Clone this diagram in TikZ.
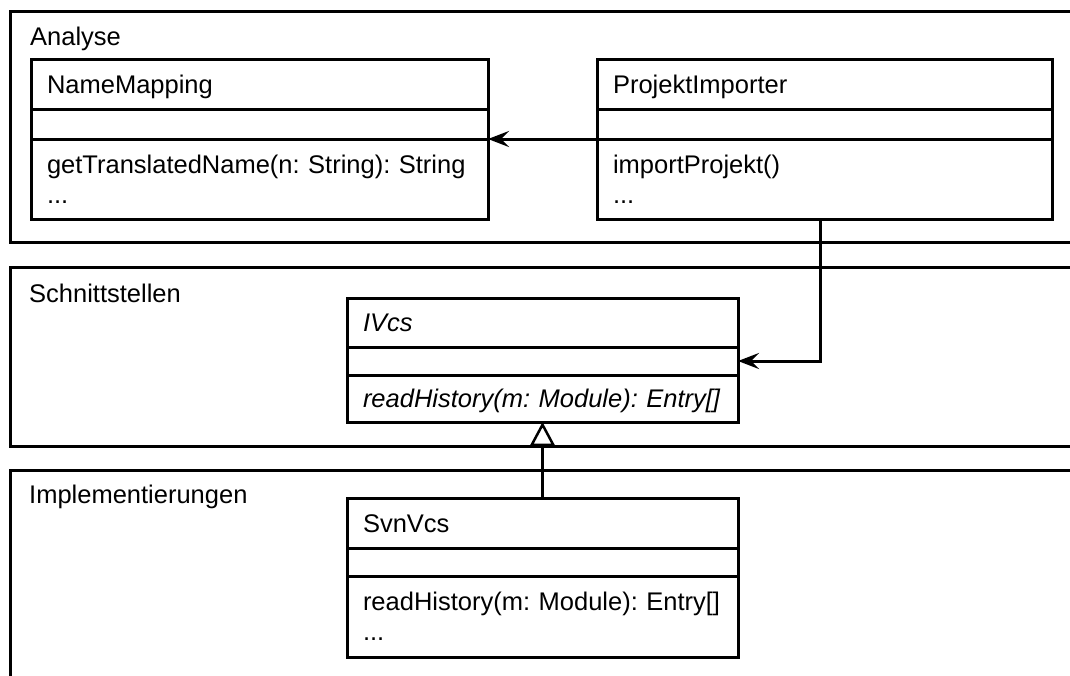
\documentclass[tikz,border=0pt]{standalone}
\usepackage{fontspec}
\setmainfont{Liberation Sans}
\usetikzlibrary{arrows.meta}
\hyphenpenalty=10000
\exhyphenpenalty=10000

\tikzset{
  x=1pt, y=-1pt,
  base font/.style={font=\fontsize{25.5}{30}\selectfont\frenchspacing},
  frame/.style={draw, line width=3pt, anchor=north west, outer sep=0pt,
    inner sep=0pt, minimum width=1100pt},
  framelabel/.style={base font, anchor=base west, inner sep=0pt},
  comp/.style={draw, line width=3pt, fill=white, anchor=north west, outer sep=0pt,
    inner xsep=16pt, inner ysep=0pt, align=left, base font,
    text height=18pt, text depth=0pt},
  italic/.style={font=\fontsize{25.5}{30}\selectfont\frenchspacing\itshape},
  twolines/.style={text depth=30pt},
  assoc/.style={line width=3pt,
    -{Stealth[length=21pt, width=16pt, inset=8pt]}},
  inherit/.style={line width=3pt,
    -{Triangle[length=24pt, width=25pt, fill=white, line width=2.5pt]}},
}

\begin{document}
\begin{tikzpicture}
\clip (0,0) rectangle (1070,675);

% package frames
\node[frame, minimum height=231pt] (analyse) at (10,11) {};
\node[framelabel] (analyse-lbl) at ([xshift=20pt, yshift=-34pt]analyse.north west) {Analyse};

\node[frame, minimum height=179pt] (schnitt) at (10,267) {};
\node[framelabel] (schnitt-lbl) at ([xshift=19pt, yshift=-35pt]schnitt.north west) {Schnittstellen};

\node[frame, minimum height=300pt] (impl) at (10,470) {};
\node[framelabel] (impl-lbl) at ([xshift=19pt, yshift=-33pt]impl.north west) {Implementierungen};

% class NameMapping
\node[comp, text width=425pt, minimum height=50pt] (nm-name) at (31,59) {NameMapping};
\node[comp, text width=425pt, minimum height=30pt] (nm-attr) at (nm-name.south west) {};
\node[comp, twolines, text width=425pt, minimum height=80pt] (nm-ops) at (nm-attr.south west)
  {getTranslatedName(n: String): String\\...};

% class ProjektImporter
\node[comp, text width=423pt, minimum height=50pt] (pi-name) at (597,59) {ProjektImporter};
\node[comp, text width=423pt, minimum height=30pt] (pi-attr) at (pi-name.south west) {};
\node[comp, twolines, text width=423pt, minimum height=80pt] (pi-ops) at (pi-attr.south west)
  {importProjekt()\\...};

% interface IVcs
\node[comp, italic, text width=359pt, minimum height=49pt] (iv-name) at (347,298) {IVcs};
\node[comp, text width=359pt, minimum height=28pt] (iv-attr) at (iv-name.south west) {};
\node[comp, italic, text width=359pt, minimum height=47pt] (iv-ops) at (iv-attr.south west)
  {readHistory(m: Module): Entry[]};

% class SvnVcs
\node[comp, text width=359pt, minimum height=50pt] (sv-name) at (347,498) {SvnVcs};
\node[comp, text width=359pt, minimum height=28pt] (sv-attr) at (sv-name.south west) {};
\node[comp, twolines, text width=359pt, minimum height=81pt] (sv-ops) at (sv-attr.south west)
  {readHistory(m: Module): Entry[]\\...};

% relations
\draw[assoc] (pi-attr.south west) -- (nm-attr.south east);
\coordinate (pi-out) at ([xshift=223pt]pi-ops.south west);
\draw[assoc] (pi-out) |- (iv-attr.east);
\draw[inherit] (sv-name.north) -- (iv-ops.south);
\end{tikzpicture}
\end{document}
